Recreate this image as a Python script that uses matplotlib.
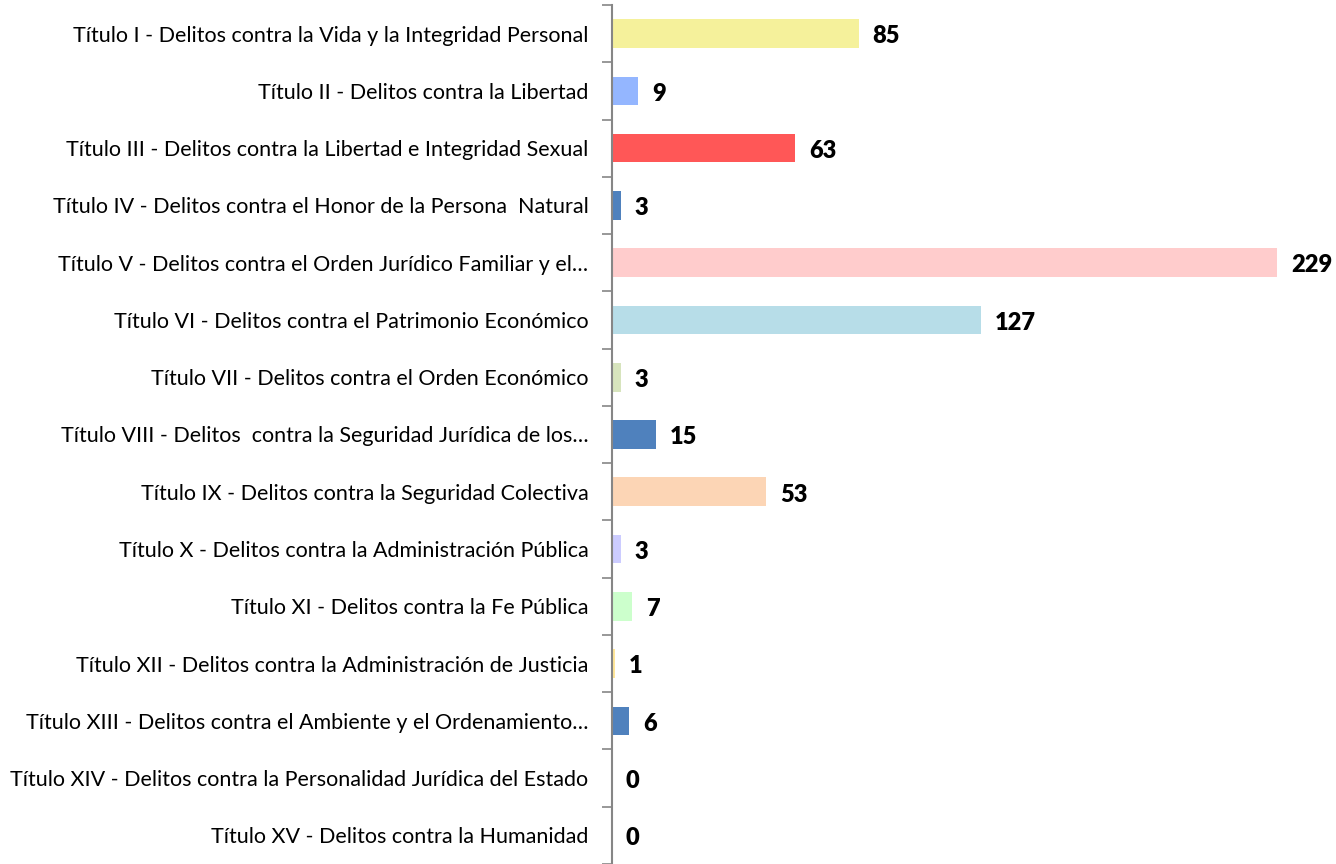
import matplotlib.pyplot as plt
import numpy as np

plt.rcParams['font.family'] = ['Lato', 'DejaVu Sans']

titulos = [
    'Título I - Delitos contra la Vida y la Integridad Personal',
    'Título II - Delitos contra la Libertad',
    'Título III - Delitos contra la Libertad e Integridad Sexual',
    'Título IV - Delitos contra el Honor de la Persona  Natural',
    'Título V - Delitos contra el Orden Jurídico Familiar y el…',
    'Título VI - Delitos contra el Patrimonio Económico',
    'Título VII - Delitos contra el Orden Económico',
    'Título VIII - Delitos  contra la Seguridad Jurídica de los…',
    'Título IX - Delitos contra la Seguridad Colectiva',
    'Título X - Delitos contra la Administración Pública',
    'Título XI - Delitos contra la Fe Pública',
    'Título XII - Delitos contra la Administración de Justicia',
    'Título XIII - Delitos contra el Ambiente y el Ordenamiento…',
    'Título XIV - Delitos contra la Personalidad Jurídica del Estado',
    'Título XV - Delitos contra la Humanidad',
]
casos = [85, 9, 63, 3, 229, 127, 3, 15, 53, 3, 7, 1, 6, 0, 0]
colores = ['#F5F19B', '#94B6FF', '#FF5757', '#4F81BD', '#FFCCCC', '#B7DDE8',
           '#D7E4BD', '#4F81BD', '#FCD5B5', '#CCCCFF', '#CCFFCC', '#FFE699',
           '#4F81BD', '#4F81BD', '#4F81BD']

fig = plt.figure(figsize=(13.36, 8.64), dpi=100)
ax = fig.add_axes([612 / 1336, 0, 697 / 1336, 859 / 864])

y = np.arange(len(casos))
ax.barh(y, casos, height=0.5, color=colores)
ax.set_ylim(len(casos) - 0.5, -0.5)
ax.set_xlim(0, 240)

# etiquetas de valor
for yi, v in zip(y, casos):
    ax.annotate(str(v), (v, yi), xytext=(10, -2), textcoords='offset points',
                va='center', ha='left', fontsize=17, fontweight='heavy')

ax.set_yticks(y)
ax.set_yticklabels(titulos, fontsize=15.5)
ax.set_yticks(np.arange(len(casos) + 1) - 0.5, minor=True)
ax.tick_params(axis='y', which='major', length=0, pad=17)
ax.tick_params(axis='y', which='minor', length=7, color='#868686', width=1.2)
ax.set_xticks([])
for s in ['top', 'right', 'bottom']:
    ax.spines[s].set_visible(False)
ax.spines['left'].set_color('#868686')
ax.spines['left'].set_linewidth(1.5)

fig.savefig('out.png', dpi=100)
